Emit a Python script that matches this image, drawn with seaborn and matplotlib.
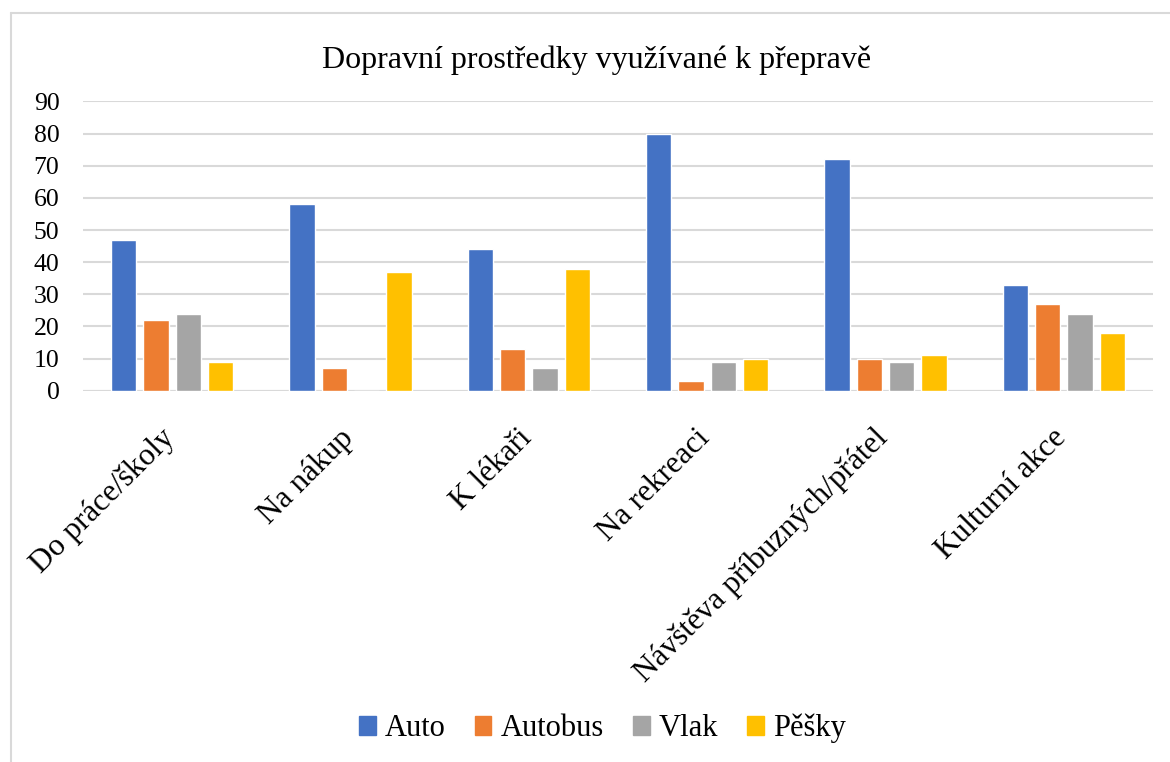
import pandas as pd
import matplotlib.pyplot as plt
import seaborn as sns
from matplotlib.lines import Line2D
from matplotlib.transforms import ScaledTranslation

# Data
categories = ['Do práce/školy', 'Na nákup', 'K lékaři', 'Na rekreaci',
              'Návštěva příbuzných/přátel', 'Kulturní akce']
auto = [47, 58, 44, 80, 72, 33]
autobus = [22, 7, 13, 3, 10, 27]
vlak = [24, 0, 7, 9, 9, 24]
pesky = [9, 37, 38, 10, 11, 18]
series_names = ['Auto', 'Autobus', 'Vlak', 'Pěšky']
colors = ['#4472C4', '#ED7D31', '#A5A5A5', '#FFC000']

# Long-form table for seaborn
df = pd.DataFrame({'Kategorie': categories, 'Auto': auto, 'Autobus': autobus,
                   'Vlak': vlak, 'Pěšky': pesky})
df = df.melt(id_vars='Kategorie', var_name='Prostředek', value_name='Počet')

sns.set_style('white')
plt.rcParams['font.family'] = ['Liberation Serif', 'DejaVu Serif']
plt.rcParams['text.color'] = 'black'
plt.rcParams['xtick.color'] = 'black'
plt.rcParams['ytick.color'] = 'black'

fig = plt.figure(figsize=(11.7, 7.62), dpi=100)
# plot area: x 83..1153 px, y 101.5..390.7 px
ax = fig.add_axes([83 / 1170, 1 - 390.7 / 762, 1070 / 1170, 289.2 / 762])

sns.barplot(data=df, x='Kategorie', y='Počet', hue='Prostředek',
            hue_order=series_names, palette=colors, width=0.725, gap=0.22,
            saturation=1, ax=ax, legend=False)

ax.set_ylim(0, 90)
ax.set_xlim(-0.5, len(categories) - 0.5)
ax.set_yticks(range(0, 91, 10))
ax.yaxis.grid(True, color='#D9D9D9', linewidth=1.5)
ax.set_axisbelow(True)
for side in ['top', 'right', 'left', 'bottom']:
    ax.spines[side].set_visible(False)
ax.axhline(0, color='#D9D9D9', linewidth=1.5, zorder=0)

ax.tick_params(axis='both', length=0)
ax.tick_params(axis='y', labelsize=18.5, pad=17)
ax.set_xticks(range(len(categories)))
ax.set_xticklabels(categories, rotation=45, ha='right', rotation_mode='anchor',
                   fontsize=22.5)
ax.tick_params(axis='x', pad=20)
# nudge rotated labels so their ends sit like in the original
shift = ScaledTranslation(-12 / 100, -5 / 100, fig.dpi_scale_trans)
for lbl in ax.get_xticklabels():
    lbl.set_transform(lbl.get_transform() + shift)
ax.set_xlabel('')
ax.set_ylabel('')

fig.suptitle('Dopravní prostředky využívané k přepravě', fontsize=23,
             x=0.51, y=0.94)

# Legend at the bottom
handles = [plt.Rectangle((0, 0), 1, 1, color=c) for c in colors]
fig.legend(handles, series_names, loc='center', bbox_to_anchor=(0.515, 0.044),
           ncol=4, frameon=False, fontsize=22, handlelength=0.55,
           handleheight=0.55, handletextpad=0.3, columnspacing=0.95)

# Chart area border
fig.add_artist(Line2D([11 / 1170, 11 / 1170], [0, 1 - 13 / 762],
                      transform=fig.transFigure, color='#D9D9D9', linewidth=1.5))
fig.add_artist(Line2D([11 / 1170, 1], [1 - 13 / 762, 1 - 13 / 762],
                      transform=fig.transFigure, color='#D9D9D9', linewidth=1.5))

fig.savefig('out.png', dpi=100)
